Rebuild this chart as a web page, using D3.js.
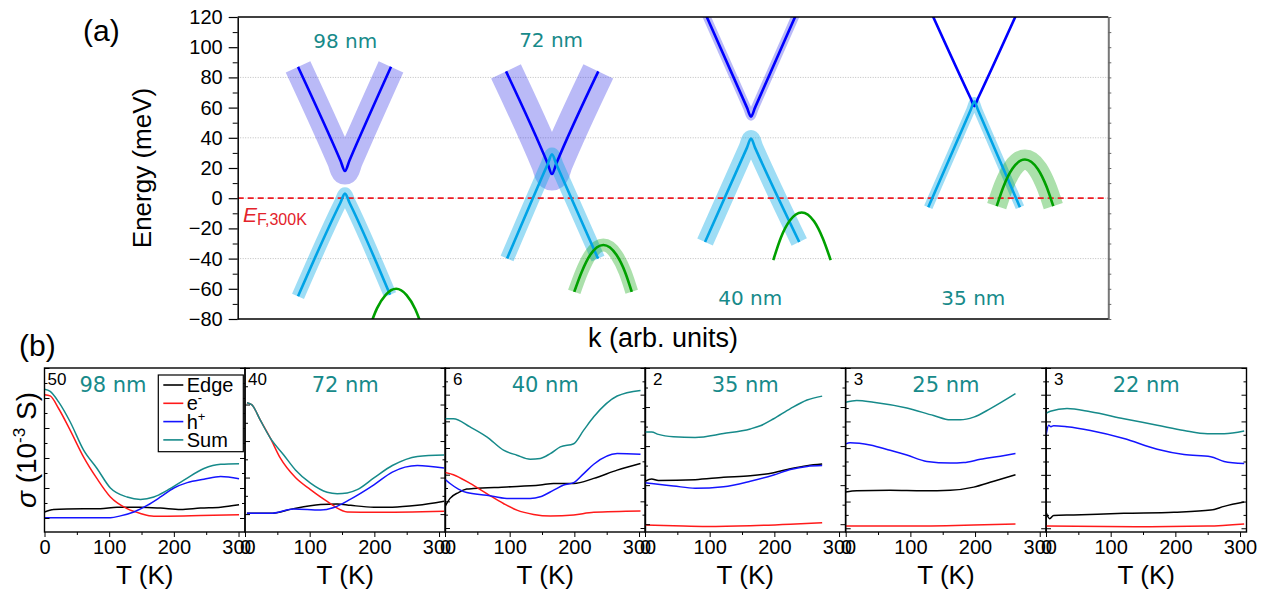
<!DOCTYPE html>
<meta charset="utf-8">
<style>
body { margin: 0; background: #fff; }
text { font-family: "Liberation Sans", Arial, sans-serif; }
.nm { font-family: "DejaVu Sans", Verdana, sans-serif; fill: #178a8a; }
</style>
<svg width="1268" height="591"></svg>
<script src="https://d3js.org/d3.v7.min.js"></script>
<script>

// ---------- panel (a): band sketches, [k (arb.), E (meV)]
var cb98 = [[6.93,87],[11.8,25],[12.32,18],[12.84,25],[17.61,87]];
var vb98 = [[6.93,-65],[11.8,-3],[12.32,3],[12.84,-3],[17.5,-64]];
var gr98 = [[15.0,-88],[16.0,-73],[17.0,-64],[18.2,-60],[19.4,-64.2],[20.4,-73.5],[21.4,-89]];
var cb72 = [[30.82,84],[35.6,23],[36.1,16],[36.6,23],[41.42,84]];
var vb72 = [[30.94,-40],[35.6,22.5],[36.1,29],[36.6,22.5],[41.39,-40]];
var gr72 = [[38.66,-62],[39.5,-49],[40.5,-37.5],[42.0,-31],[43.5,-37.5],[44.5,-49],[45.26,-62]];
var cb40 = [[53.5,125],[58.5,60],[58.96,54],[59.42,60],[64.4,125]];
var vb40 = [[53.68,-29],[58.5,33.5],[58.96,39.5],[59.42,33.5],[64.5,-29]];
var gr40 = [[61.52,-41],[62.4,-26],[63.4,-15],[64.78,-9.5],[66.2,-15.3],[67.2,-26.5],[68.11,-41]];
var cb35 = [[79.5,125],[84.2,66],[84.61,61],[85.02,66],[89.7,125]];
var vb35 = [[79.32,-6],[84.2,58.6],[84.61,64],[85.02,58.6],[89.85,-6]];
var gr35 = [[87.18,-5.3],[88.0,8.3],[89.0,19.6],[90.43,25.6],[91.9,19.3],[92.9,7.7],[93.68,-5.3]];
var energyTicks = [-80,-60,-40,-20,0,20,40,60,80,100,120];
var gridE = [-40,0,40,80];
var thickNames = ["98 nm","72 nm","40 nm","35 nm"];

// ---------- panel (b): sigma(T), [T (K), sigma]
var edge98 = [[0,2.0],[13.9,2.8],[34.6,3.0],[86.3,3.1],[112.1,3.6],[148.4,3.6],[179.4,3.3],[210.4,2.8],[241.3,3.3],[272.4,3.6],[300.8,4.4]];
var elec98 = [[0,41.1],[8.8,40.7],[21.8,36.5],[39.8,29.2],[60.5,20.3],[81.2,13.1],[101.9,7.0],[127.7,3.1],[148.4,1.5],[169,0.6],[189.7,0.6],[241.3,0.8],[300.8,1.1]];
var hole98 = [[0,0.1],[101.9,0.1],[117.4,0.7],[138,2.0],[158.7,4.2],[179.4,7.0],[200,10.0],[220.7,11.8],[246.5,12.9],[272.4,13.8],[300.8,13.1]];
var sum98 = [[0,42.9],[8.8,42.2],[21.8,38.7],[39.8,32.0],[60.5,22.6],[81.2,16.5],[101.9,10.0],[127.7,7.0],[148.4,6.2],[169,7.0],[189.7,9.2],[215.5,12.6],[246.5,16.5],[272.4,17.9],[300.8,18.1]];

var edge72 = [[3.0,0.2],[39.2,0.2],[75.4,1.5],[116.7,2.6],[142.6,2.8],[163.3,2.4],[199.3,1.9],[227.8,1.9],[266.5,2.4],[307.8,3.5]];
var elec72 = [[3.0,30.5],[10.8,29.9],[23.7,25.7],[39.2,20.8],[54.7,15.3],[78,10.0],[101.2,6.7],[127,3.5],[158,0.6],[199.3,0.5],[307.8,0.8]];
var hole72 = [[3.0,0.2],[39.2,0.2],[75.4,1.4],[116.7,1.1],[137.4,1.8],[163.3,4.1],[199.3,8.0],[227.8,11.5],[266.5,13.3],[307.8,12.6]];
var sum72 = [[3.0,30.5],[10.8,29.9],[23.7,25.7],[39.2,20.8],[59.9,16.2],[78,12.1],[101.2,8.5],[127,6.0],[142.6,5.6],[158,5.8],[173.5,6.7],[199.3,9.9],[227.8,13.3],[266.5,15.8],[307.8,16.2]];

var edge40 = [[0,0.80],[7.8,1.11],[20.7,1.33],[33.6,1.46],[43.9,1.48],[95.6,1.54],[147.3,1.61],[168,1.67],[199,1.67],[230,1.86],[266.2,2.17],[302.3,2.42]];
var elec40 = [[0,2.08],[12.9,2.0],[38.8,1.67],[64.6,1.29],[90.4,0.92],[111.1,0.67],[136.9,0.51],[162.8,0.45],[199,0.49],[230,0.59],[302.3,0.64]];
var hole40 = [[0,1.83],[7.8,1.67],[20.7,1.46],[33.6,1.33],[64.6,1.23],[95.6,1.11],[131.8,1.11],[147.3,1.17],[168,1.42],[183.5,1.61],[199,1.70],[214.5,2.04],[230,2.39],[266.2,2.79],[302.3,2.77]];
var sum40 = [[0,4.10],[12.9,4.10],[38.8,3.79],[64.6,3.42],[90.4,2.92],[111.1,2.73],[131.8,2.58],[147.3,2.61],[162.8,2.79],[178.3,3.04],[199,3.16],[214.5,3.67],[230,4.17],[266.2,4.95],[302.3,5.16]];

var edge35 = [[0,0.55],[10.3,0.58],[20.7,0.56],[77.5,0.57],[121.4,0.60],[162.8,0.62],[199,0.66],[224.8,0.71],[250.6,0.75],[273.9,0.77]];
var elec35 = [[0,-0.01],[44,-0.02],[95.6,-0.03],[162.8,-0.02],[224.8,0.0],[273.9,0.02]];
var hole35 = [[0,0.53],[10.3,0.52],[44,0.49],[77.5,0.46],[121.4,0.48],[162.8,0.55],[199,0.63],[224.8,0.70],[250.6,0.74],[273.9,0.75]];
var sum35 = [[0,1.18],[10.3,1.18],[20.7,1.15],[44,1.12],[77.5,1.11],[121.4,1.16],[162.8,1.22],[178.3,1.26],[199,1.35],[224.8,1.48],[250.6,1.59],[273.9,1.64]];

var edge25 = [[0,0.68],[17,0.70],[68.7,0.71],[120.4,0.70],[161.7,0.71],[197.9,0.77],[228.9,0.88],[262.5,1.0]];
var elec25 = [[0,0.04],[94.5,0.04],[197.9,0.06],[262.5,0.08]];
var hole25 = [[0,1.58],[6.7,1.60],[37.7,1.56],[68.7,1.46],[94.5,1.37],[125.5,1.25],[161.7,1.22],[182.4,1.23],[208.2,1.29],[239.2,1.35],[262.5,1.40]];
var sum25 = [[0,2.36],[17,2.39],[42.8,2.36],[94.5,2.25],[135.9,2.11],[161.7,2.03],[177.2,2.03],[197.9,2.08],[223.7,2.24],[262.5,2.52]];

var edge22 = [[0,0.30],[5.7,0.18],[11.8,0.24],[42.8,0.25],[120.4,0.28],[197.9,0.30],[254.7,0.34],[275.4,0.41],[306.4,0.49]];
var elec22 = [[0,0.04],[137.9,0.03],[249.6,0.04],[306.4,0.08]];
var hole22 = [[0,1.74],[4.1,1.93],[7.7,1.90],[11.8,1.92],[32.5,1.90],[68.7,1.83],[120.4,1.68],[172,1.48],[213.4,1.38],[254.7,1.34],[275.4,1.25],[306.4,1.21]];
var sum22 = [[0,2.15],[6.7,2.19],[32.5,2.24],[68.7,2.18],[120.4,2.05],[172,1.93],[213.4,1.83],[249.6,1.77],[275.4,1.77],[306.4,1.82]];

var topValues = ["50","40","6","2","3","3"];
var subNames = ["98 nm","72 nm","40 nm","35 nm","25 nm","22 nm"];
var yDomains = [[-4.67,50],[-4.9,40],[-0.15,6],[-0.1,2],[-0.07,3],[-0.07,3]];
var ySteps = [10,10,1,0.5,0.5,0.5];
var tempTicks = [0,100,200,300];
var tempMinor = [50,150,250];
var seriesNames = ["Edge","e","h","Sum"];

var svg = d3.select("svg");
var defs = svg.append("defs");

// ================= panel (a) =================
var kx = d3.scaleLinear().domain([0,100]).range([237.7,1108.3]);
var ey = d3.scaleLinear().domain([-80,120]).range([319,17]);

defs.append("clipPath").attr("id","clipA").append("rect")
    .attr("x", kx(0)).attr("y", ey(120))
    .attr("width", kx(100)-kx(0)).attr("height", ey(-80)-ey(120));

var ga = svg.append("g");
var plotA = ga.append("g").attr("clip-path","url(#clipA)");

plotA.selectAll("line.grid").data(gridE).enter().append("line")
    .attr("x1", kx(0)).attr("x2", kx(100))
    .attr("y1", function(d){ return ey(d); }).attr("y2", function(d){ return ey(d); })
    .attr("stroke","#bdbdbd").attr("stroke-width",1).attr("stroke-dasharray","1,1.5");

var cbCol = "#0000ff", vbCol = "#00a3e6", grCol = "#00a000";
var cbHalo = "rgba(40,40,230,0.32)", vbHalo = "rgba(0,165,230,0.38)", grHalo = "rgba(0,160,0,0.33)";
var bands = [
  {d: cb98, c: cbCol, h: cbHalo, w: 27},
  {d: vb98, c: vbCol, h: vbHalo, w: 13},
  {d: gr98, c: grCol, h: grHalo, w: 0},
  {d: cb72, c: cbCol, h: cbHalo, w: 33},
  {d: vb72, c: vbCol, h: vbHalo, w: 14},
  {d: gr72, c: grCol, h: grHalo, w: 13},
  {d: cb40, c: cbCol, h: cbHalo, w: 8},
  {d: vb40, c: vbCol, h: vbHalo, w: 17},
  {d: gr40, c: grCol, h: grHalo, w: 0},
  {d: cb35, c: cbCol, h: cbHalo, w: 0},
  {d: vb35, c: vbCol, h: vbHalo, w: 9},
  {d: gr35, c: grCol, h: grHalo, w: 20}
];
var bandLine = d3.line()
    .x(function(d){ return kx(d[0]); })
    .y(function(d){ return ey(d[1]); })
    .curve(d3.curveMonotoneX);

plotA.selectAll("path.halo").data(bands.filter(function(b){ return b.w > 0; }))
  .enter().append("path")
    .attr("d", function(b){ return bandLine(b.d); })
    .attr("fill","none").attr("stroke", function(b){ return b.h; })
    .attr("stroke-width", function(b){ return b.w; });

plotA.append("line")
    .attr("x1", kx(0)).attr("x2", kx(100)).attr("y1", ey(0)).attr("y2", ey(0))
    .attr("stroke","#ee1c24").attr("stroke-width",1.8).attr("stroke-dasharray","6,4");

plotA.selectAll("path.band").data(bands).enter().append("path")
    .attr("d", function(b){ return bandLine(b.d); })
    .attr("fill","none").attr("stroke", function(b){ return b.c; })
    .attr("stroke-width", 2.6);

// axes of (a)
var axL = ga.append("g").attr("transform","translate(" + kx(0) + ",0)")
    .call(d3.axisLeft(ey).tickValues(energyTicks).tickSize(9).tickPadding(6).tickSizeOuter(0));
axL.attr("font-family", null).attr("font-size", null);
axL.selectAll("text").style("font-size","20px").attr("fill","#000");
axL.selectAll("line").attr("stroke-width",1.2);
axL.select(".domain").attr("stroke-width",1.5);
ga.append("g").attr("transform","translate(" + kx(0) + ",0)")
    .call(d3.axisLeft(ey).tickValues(d3.range(-70,120,20)).tickSize(5).tickFormat(""))
    .call(function(g){ g.select(".domain").remove(); });

var axR = ga.append("g").attr("transform","translate(" + kx(100) + ",0)")
    .call(d3.axisRight(ey).tickValues(d3.range(-80,121,10)).tickSize(3).tickFormat("").tickSizeOuter(0));
axR.selectAll("line").attr("stroke","#666");
axR.select(".domain").attr("stroke","#777").attr("stroke-width",2);

ga.append("line").attr("x1",kx(0)).attr("x2",kx(100)).attr("y1",ey(120)).attr("y2",ey(120))
    .attr("stroke","#000").attr("stroke-width",1.5);
ga.append("line").attr("x1",kx(0)).attr("x2",kx(100)).attr("y1",ey(-80)).attr("y2",ey(-80))
    .attr("stroke","#000").attr("stroke-width",1.5);

// labels in (a)
var nmPos = [[12.36,99.5],[36.0,100.3],[58.88,-70.7],[84.5,-70.7]];
ga.selectAll("text.nmA").data(thickNames).enter().append("text")
    .attr("class","nm")
    .attr("x", function(d,i){ return kx(nmPos[i][0]); })
    .attr("y", function(d,i){ return ey(nmPos[i][1]); })
    .attr("text-anchor","middle").style("font-size","20px")
    .text(function(d){ return d; });

var ef = ga.append("text").attr("x", 243).attr("y", 221.5).attr("fill","#e3232b");
ef.append("tspan").style("font-style","italic").style("font-size","21px").text("E");
ef.append("tspan").attr("dy",3).style("font-size","16px").text("F,300K");

svg.append("text").attr("transform","translate(151,168) rotate(-90)")
    .attr("text-anchor","middle").style("font-size","26px").text("Energy (meV)");
svg.append("text").attr("x", 663).attr("y", 347)
    .attr("text-anchor","middle").style("font-size","27px").text("k (arb. units)");
svg.append("text").attr("x", 83).attr("y", 41).style("font-size","30px").text("(a)");
svg.append("text").attr("x", 19).attr("y", 356).style("font-size","30px").text("(b)");

// ================= panel (b) =================
var lefts = [44.5, 245, 445, 645, 845.7, 1046];
var pw = 200.5, pTop = 368, pBot = 532;
var sets = [
  [edge98, elec98, hole98, sum98],
  [edge72, elec72, hole72, sum72],
  [edge40, elec40, hole40, sum40],
  [edge35, elec35, hole35, sum35],
  [edge25, elec25, hole25, sum25],
  [edge22, elec22, hole22, sum22]
];
var seriesColors = ["#000000", "#ff1a1a", "#1414ff", "#168a8a"];

sets.forEach(function(ser, i) {
  var x0 = lefts[i];
  var xs = d3.scaleLinear().domain([0,310]).range([x0, x0 + pw]);
  var ys = d3.scaleLinear().domain(yDomains[i]).range([pBot, pTop]);
  var g = svg.append("g");

  defs.append("clipPath").attr("id","clipB" + i).append("rect")
      .attr("x", x0).attr("y", pTop).attr("width", pw).attr("height", pBot - pTop);

  var line = d3.line()
      .x(function(d){ return xs(d[0]); })
      .y(function(d){ return ys(d[1]); })
      .curve(d3.curveMonotoneX);

  g.append("g").attr("clip-path","url(#clipB" + i + ")")
    .selectAll("path").data(ser).enter().append("path")
      .attr("d", function(d){ return line(d); })
      .attr("fill","none")
      .attr("stroke", function(d,j){ return seriesColors[j]; })
      .attr("stroke-width", 1.5);

  // y ticks, inward on both sides
  var st = ySteps[i], ymax = yDomains[i][1];
  var major = d3.range(0, ymax + st/10, st);
  var minor = d3.range(st/2, ymax, st);
  [[d3.axisLeft, x0], [d3.axisRight, x0 + pw]].forEach(function(a) {
    g.append("g").attr("transform","translate(" + a[1] + ",0)")
      .call(a[0](ys).tickValues(major).tickSize(-5).tickFormat(""))
      .call(function(s){ s.select(".domain").remove(); });
    g.append("g").attr("transform","translate(" + a[1] + ",0)")
      .call(a[0](ys).tickValues(minor).tickSize(-3).tickFormat(""))
      .call(function(s){ s.select(".domain").remove(); });
  });

  // x axis
  var ax = g.append("g").attr("transform","translate(0," + pBot + ")")
      .call(d3.axisBottom(xs).tickValues(tempTicks).tickSize(5).tickPadding(3).tickFormat(d3.format("d")));
  ax.attr("font-family", null).attr("font-size", null);
  ax.select(".domain").remove();
  ax.selectAll("text").style("font-size","20px").attr("fill","#000");
  g.append("g").attr("transform","translate(0," + pBot + ")")
      .call(d3.axisBottom(xs).tickValues(tempMinor).tickSize(3).tickFormat(""))
      .call(function(s){ s.select(".domain").remove(); });

  g.append("rect").attr("x", x0).attr("y", pTop).attr("width", pw).attr("height", pBot - pTop)
      .attr("fill","none").attr("stroke","#000").attr("stroke-width",1.4);

  g.append("text").attr("x", x0 + (topValues[i].length > 1 ? 3 : 8)).attr("y", 385)
      .style("font-size","17px").text(topValues[i]);

  g.append("text").attr("class","nm")
      .attr("x", i === 0 ? 113 : x0 + pw/2).attr("y", 391.5)
      .attr("text-anchor","middle").style("font-size","21px")
      .text(subNames[i]);

  g.append("text").attr("x", x0 + pw/2).attr("y", 584)
      .attr("text-anchor","middle").style("font-size","26px").text("T (K)");
});

// legend in first subplot
var lg = svg.append("g");
lg.append("rect").attr("x",158.3).attr("y",375).attr("width",85).attr("height",76.7)
    .attr("fill","#fff").attr("stroke","#000").attr("stroke-width",1.2);
seriesNames.forEach(function(nm, j) {
  var y = 385 + j * 18.3;
  lg.append("line").attr("x1",163.3).attr("x2",183.3).attr("y1",y).attr("y2",y)
      .attr("stroke", seriesColors[j]).attr("stroke-width",1.6);
  var t = lg.append("text").attr("x",186.7).attr("y", y + 7).style("font-size","20px").text(nm);
  if (nm === "e") t.append("tspan").attr("dy",-8).style("font-size","13px").text("-");
  if (nm === "h") t.append("tspan").attr("dy",-8).style("font-size","13px").text("+");
});

// sigma axis label
var sl = svg.append("text").attr("transform","translate(36,450) rotate(-90)")
    .attr("text-anchor","middle").style("font-size","28px");
sl.append("tspan").style("font-style","italic").text("σ");
sl.append("tspan").text(" (10");
sl.append("tspan").attr("dy",-11).style("font-size","17px").text("-3");
sl.append("tspan").attr("dy",11).text(" S)");

</script>
